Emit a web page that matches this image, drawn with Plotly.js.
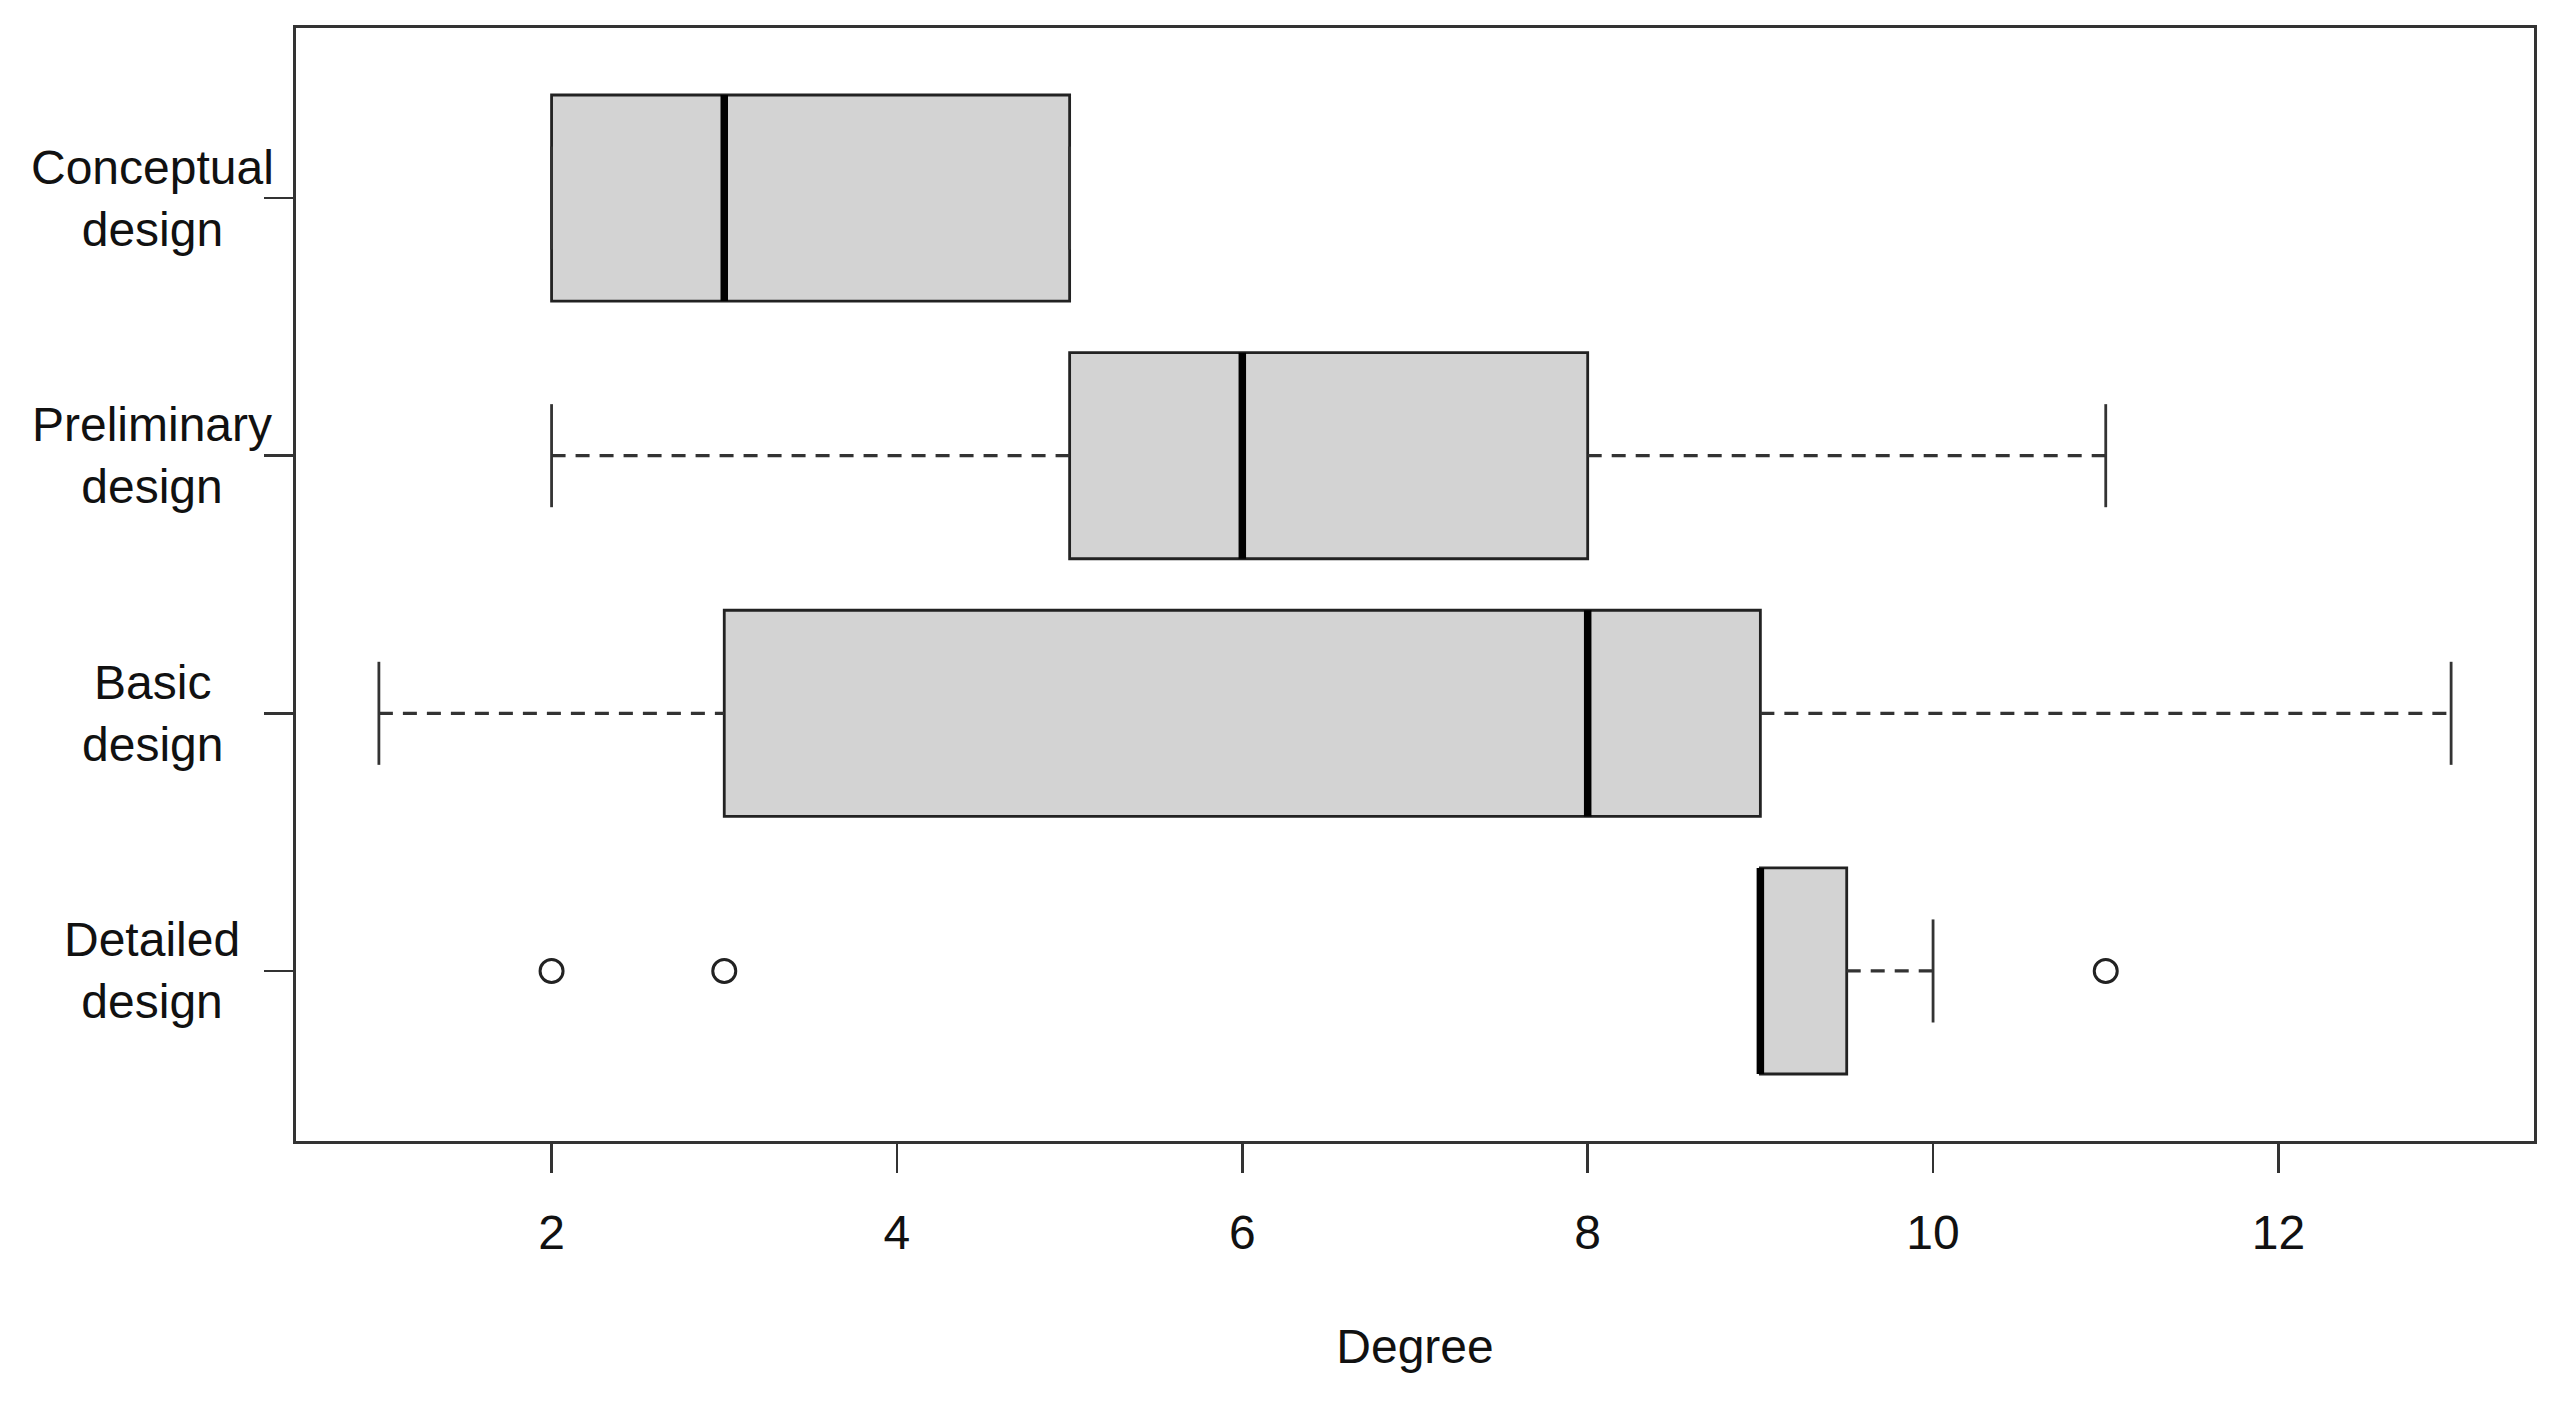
<!DOCTYPE html>
<html>
<head>
<meta charset="utf-8">
<script src="https://cdn.plot.ly/plotly-3.0.1.min.js"></script>
<style>
  html, body { margin: 0; padding: 0; background: #ffffff; }
  #chart { width: 2562px; height: 1402px; }
</style>
</head>
<body>
<div id="chart"></div>
<script>
// ---- data ----
var categories   = ["Conceptual design", "Preliminary design", "Basic design", "Detailed design"];
var q1Values     = [2, 5, 3, 9];
var medianValues = [3, 6, 8, 9];
var q3Values     = [5, 8, 9, 9.5];
var whiskerLow   = [2, 2, 1, 9];
var whiskerHigh  = [5, 11, 13, 10];
var outlierValues     = [2, 3, 11];
var outlierCategories = ["Detailed design", "Detailed design", "Detailed design"];
var xTickValues  = [2, 4, 6, 8, 10, 12];
var xTitle       = "Degree";

// ---- helpers ----
var n = categories.length;
function posOf(cat) { return n - categories.indexOf(cat); }   // first category on top
var positions = categories.map(function (c) { return posOf(c); });
var BOXHALF = 0.4, CAPHALF = 0.2;
var FONT = "Liberation Sans, Arial, Helvetica, sans-serif";
var FS = 48;

// box bodies (whiskers drawn separately as dashed lines, as in the original)
var boxTrace = {
  type: "box",
  orientation: "h",
  y: positions,
  q1: q1Values,
  median: medianValues,
  q3: q3Values,
  lowerfence: q1Values,
  upperfence: q3Values,
  width: 2 * BOXHALF,
  whiskerwidth: 0,
  boxpoints: false,
  fillcolor: "#D3D3D3",
  line: { color: "#222222", width: 2.8 },
  hoverinfo: "skip",
  showlegend: false
};

// dashed whiskers
var wx = [], wy = [];
categories.forEach(function (c, i) {
  var p = positions[i];
  wx.push(whiskerLow[i], q1Values[i], null, q3Values[i], whiskerHigh[i], null);
  wy.push(p, p, null, p, p, null);
});
var whiskerTrace = {
  type: "scatter", mode: "lines", x: wx, y: wy,
  line: { color: "#333333", width: 3.2, dash: "14px,10px" },
  hoverinfo: "skip", showlegend: false
};

// staples (caps)
var cx = [], cy = [];
categories.forEach(function (c, i) {
  var p = positions[i];
  cx.push(whiskerLow[i], whiskerLow[i], null, whiskerHigh[i], whiskerHigh[i], null);
  cy.push(p - CAPHALF, p + CAPHALF, null, p - CAPHALF, p + CAPHALF, null);
});
var capTrace = {
  type: "scatter", mode: "lines", x: cx, y: cy,
  line: { color: "#333333", width: 2.8 },
  hoverinfo: "skip", showlegend: false
};

// thick medians
var mx = [], my = [];
categories.forEach(function (c, i) {
  var p = positions[i];
  mx.push(medianValues[i], medianValues[i], null);
  my.push(p - BOXHALF, p + BOXHALF, null);
});
var medianTrace = {
  type: "scatter", mode: "lines", x: mx, y: my,
  line: { color: "#000000", width: 7.5 },
  hoverinfo: "skip", showlegend: false
};

// outliers
var outlierTrace = {
  type: "scatter", mode: "markers",
  x: outlierValues,
  y: outlierCategories.map(posOf),
  marker: { symbol: "circle-open", size: 23, color: "#222222", line: { width: 3, color: "#222222" } },
  hoverinfo: "skip", showlegend: false
};

// category labels (two lines, centred)
var annotations = categories.map(function (c, i) {
  return {
    text: c.replace(" ", "<br>"),
    xref: "paper", x: 0, xshift: -144, xanchor: "center",
    yref: "y", y: positions[i], yanchor: "middle",
    align: "center", showarrow: false,
    font: { family: FONT, size: FS, color: "#111111" }
  };
});

var layout = {
  width: 2562, height: 1402,
  margin: { l: 296, r: 28, t: 28, b: 261, pad: 0 },
  paper_bgcolor: "#ffffff", plot_bgcolor: "#ffffff",
  showlegend: false,
  font: { family: FONT, size: FS, color: "#111111" },
  xaxis: {
    range: [0.52, 13.48],
    tickmode: "array", tickvals: xTickValues, ticktext: xTickValues.map(String),
    ticks: "outside", ticklen: 29, tickwidth: 2.5, tickcolor: "#333333",
    showline: true, mirror: true, linecolor: "#333333", linewidth: 3,
    showgrid: false, zeroline: false,
    tickfont: { family: FONT, size: FS, color: "#111111" },
    ticklabelstandoff: 18,
    title: { text: xTitle, font: { family: FONT, size: FS, color: "#111111" }, standoff: 72 }
  },
  yaxis: {
    range: [0.34, 4.66],
    tickmode: "array", tickvals: positions,
    ticks: "outside", ticklen: 29, tickwidth: 2.5, tickcolor: "#333333",
    showticklabels: false,
    showline: true, mirror: true, linecolor: "#333333", linewidth: 3,
    showgrid: false, zeroline: false
  },
  annotations: annotations
};

Plotly.newPlot("chart", [boxTrace, whiskerTrace, capTrace, medianTrace, outlierTrace], layout,
  { staticPlot: true, displayModeBar: false });
</script>
</body>
</html>
